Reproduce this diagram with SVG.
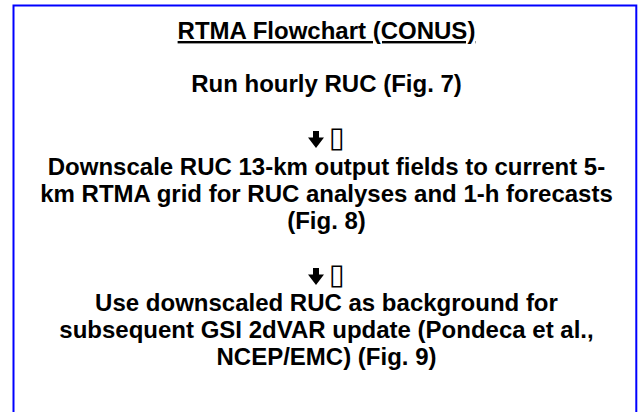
<svg xmlns="http://www.w3.org/2000/svg" width="638" height="412" viewBox="0 0 638 412">
<style>
.t{font-family:"Liberation Sans",Arial,sans-serif;font-weight:bold;font-size:24px;fill:#000;text-anchor:middle}
.tofu{font-family:"DejaVu Sans",sans-serif;font-weight:bold;font-size:29px;fill:#000}
.frame{fill:none;stroke:#0000ff;stroke-width:2}
.arrow{fill:#000;stroke:none}
</style>
<defs>
<path id="darrow" d="M-3,0 H3 V6.5 H8 L0,17 L-8,6.5 H-3 Z"/>
</defs>
<rect width="638" height="412" fill="#fff"/>
<path class="frame" d="M13.5,420 V5.5 H636.3 V420"/>
<g id="title">
<text class="t" x="326.5" y="39" text-decoration="underline">RTMA Flowchart (CONUS)</text>
</g>
<g id="node-run">
<text class="t" x="326.5" y="92">Run hourly RUC (Fig. 7)</text>
</g>
<g id="node-downscale">
<text class="t" x="326.5" y="175">Downscale RUC 13-km output fields to current 5-</text>
<text class="t" x="326.5" y="202">km RTMA grid for RUC analyses and 1-h forecasts</text>
<text class="t" x="326.5" y="229">(Fig. 8)</text>
</g>
<g id="node-gsi">
<text class="t" x="326.5" y="311">Use downscaled RUC as background for</text>
<text class="t" x="326.5" y="338">subsequent GSI 2dVAR update (Pondeca et al.,</text>
<text class="t" x="326.5" y="365">NCEP/EMC) (Fig. 9)</text>
</g>
<g id="connectors">
<use href="#darrow" class="arrow" x="316" y="131"/>
<text class="tofu" x="329" y="147">▯</text>
<use href="#darrow" class="arrow" x="316" y="268"/>
<text class="tofu" x="329" y="284">▯</text>
</g>
</svg>
